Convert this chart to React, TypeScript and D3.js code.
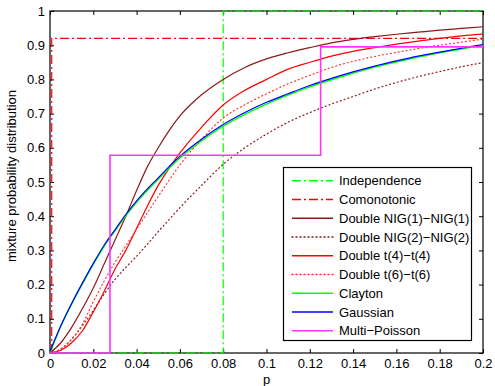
import React, { useRef, useEffect } from 'react';
import * as d3 from 'd3';

// probability grid (x values of the smooth curves)
const pGrid = [0, 0.005, 0.01, 0.015, 0.02, 0.025, 0.03, 0.035, 0.04, 0.045, 0.05, 0.055, 0.06,
  0.07, 0.08, 0.09, 0.1, 0.11, 0.12, 0.13, 0.14, 0.15, 0.16, 0.17, 0.18, 0.19, 0.2];

const nig1 = [0, 0.03, 0.075, 0.13, 0.19, 0.26, 0.33, 0.40, 0.475, 0.545, 0.60, 0.65, 0.693,
  0.755, 0.80, 0.835, 0.86, 0.878, 0.893, 0.907, 0.917, 0.925, 0.932, 0.938, 0.944, 0.949, 0.954];
const nig2 = [0, 0.012, 0.04, 0.08, 0.125, 0.172, 0.215, 0.25, 0.283, 0.318, 0.355, 0.39, 0.425,
  0.49, 0.552, 0.60, 0.64, 0.675, 0.703, 0.728, 0.75, 0.772, 0.791, 0.808, 0.823, 0.837, 0.849];
const t4 = [0, 0.008, 0.03, 0.065, 0.12, 0.18, 0.245, 0.30, 0.365, 0.43, 0.49, 0.54, 0.585,
  0.66, 0.725, 0.768, 0.80, 0.83, 0.85, 0.868, 0.882, 0.893, 0.903, 0.912, 0.92, 0.927, 0.933];
const t6 = [0, 0.012, 0.04, 0.085, 0.15, 0.21, 0.265, 0.313, 0.362, 0.41, 0.458, 0.505, 0.55,
  0.625, 0.687, 0.726, 0.758, 0.787, 0.812, 0.835, 0.853, 0.867, 0.879, 0.89, 0.90, 0.909, 0.918];
const clayton = [0, 0.078, 0.143, 0.202, 0.259, 0.312, 0.357, 0.401, 0.441, 0.476, 0.508, 0.54, 0.57,
  0.62, 0.663, 0.698, 0.728, 0.754, 0.778, 0.799, 0.818, 0.836, 0.851, 0.865, 0.878, 0.889, 0.90];
const gaussian = [0.005, 0.08, 0.145, 0.205, 0.262, 0.315, 0.36, 0.405, 0.445, 0.48, 0.512, 0.545, 0.575,
  0.625, 0.668, 0.703, 0.733, 0.758, 0.782, 0.803, 0.822, 0.839, 0.854, 0.868, 0.88, 0.891, 0.902];

// step functions (x, y) drawn with step-after
const indepX = [0, 0.08, 0.2];
const indepY = [0, 1, 1];
const comonoX = [0.0008, 0.0008, 0.2];
const comonoY = [0, 0.92, 0.92];
const poissonX = [0, 0.0277, 0.125, 0.2];
const poissonY = [0, 0.578, 0.895, 0.895];

const legendLabels = ['Independence', 'Comonotonic', 'Double NIG(1)\u2212NIG(1)', 'Double NIG(2)\u2212NIG(2)',
  'Double t(4)\u2212t(4)', 'Double t(6)\u2212t(6)', 'Clayton', 'Gaussian', 'Multi\u2212Poisson'];

const xTicks = [0, 0.02, 0.04, 0.06, 0.08, 0.1, 0.12, 0.14, 0.16, 0.18, 0.2];
const yTicks = [0, 0.1, 0.2, 0.3, 0.4, 0.5, 0.6, 0.7, 0.8, 0.9, 1];

const FONT = '"Liberation Sans", Arial, Helvetica, sans-serif';
const DASHDOT = '9,3,2,3';
const DOT = '1,3';

const App = () => {
  const svgRef = useRef<SVGSVGElement>(null);

  const draw = (node: SVGSVGElement) => {
    const width = 495, height = 386;
    const margin = { left: 50, right: 12, top: 11, bottom: 33 };
    const svg = d3.select(node).attr('width', width).attr('height', height);
    svg.selectAll('*').remove();
    svg.append('rect').attr('width', width).attr('height', height).attr('fill', '#fff');

    const x = d3.scaleLinear().domain([0, 0.2]).range([margin.left, width - margin.right]);
    const y = d3.scaleLinear().domain([0, 1]).range([height - margin.bottom, margin.top]);

    const series = [
      { label: legendLabels[0], color: '#00ff00', dash: DASHDOT, pts: indepX.map((d, i) => [d, indepY[i]]), step: true, w: 1.2 },
      { label: legendLabels[1], color: '#ff0000', dash: DASHDOT, pts: comonoX.map((d, i) => [d, comonoY[i]]), step: true, w: 1.2 },
      { label: legendLabels[2], color: '#8b1a1a', dash: null, pts: pGrid.map((d, i) => [d, nig1[i]]), step: false, w: 1.2 },
      { label: legendLabels[3], color: '#8b1a1a', dash: DOT, pts: pGrid.map((d, i) => [d, nig2[i]]), step: false, w: 1.2 },
      { label: legendLabels[4], color: '#ff0000', dash: null, pts: pGrid.map((d, i) => [d, t4[i]]), step: false, w: 1.2 },
      { label: legendLabels[5], color: '#ff3030', dash: DOT, pts: pGrid.map((d, i) => [d, t6[i]]), step: false, w: 1.2 },
      { label: legendLabels[6], color: '#00ff00', dash: null, pts: pGrid.map((d, i) => [d, clayton[i]]), step: false, w: 1.4 },
      { label: legendLabels[7], color: '#0000ff', dash: null, pts: pGrid.map((d, i) => [d, gaussian[i]]), step: false, w: 1.2 },
      { label: legendLabels[8], color: '#ff33ff', dash: null, pts: poissonX.map((d, i) => [d, poissonY[i]]), step: true, w: 1.6 },
    ];

    // axes: ticks inside on all four sides
    svg.append('g')
      .attr('transform', `translate(0,${y(0)})`)
      .call(d3.axisBottom(x).tickValues(xTicks).tickSize(-4).tickSizeOuter(0).tickPadding(6)
        .tickFormat((d) => String(+(+d).toFixed(2))));
    svg.append('g')
      .attr('transform', `translate(0,${y(1)})`)
      .call(d3.axisTop(x).tickValues(xTicks).tickSize(-4).tickSizeOuter(0).tickFormat(() => ''));
    svg.append('g')
      .attr('transform', `translate(${x(0)},0)`)
      .call(d3.axisLeft(y).tickValues(yTicks).tickSize(-4).tickSizeOuter(0).tickPadding(5)
        .tickFormat((d) => String(+(+d).toFixed(1))));
    svg.append('g')
      .attr('transform', `translate(${x(0.2)},0)`)
      .call(d3.axisRight(y).tickValues(yTicks).tickSize(-4).tickSizeOuter(0).tickFormat(() => ''));
    svg.selectAll('.tick text').attr('font-family', FONT).attr('font-size', 13).attr('fill', '#000');
    svg.selectAll('.tick line').attr('stroke', '#000');
    svg.selectAll('.domain').remove();

    // plot frame
    svg.append('rect')
      .attr('x', x(0)).attr('y', y(1))
      .attr('width', x(0.2) - x(0)).attr('height', y(0) - y(1))
      .attr('fill', 'none').attr('stroke', '#000').attr('stroke-width', 1.2);

    const plot = svg.append('g');
    series.forEach((s) => {
      const line = d3.line<number[]>()
        .x((d) => x(d[0]))
        .y((d) => y(d[1]))
        .curve(s.step ? d3.curveStepAfter : d3.curveMonotoneX);
      plot.append('path')
        .attr('d', line(s.pts as number[][]))
        .attr('fill', 'none')
        .attr('stroke', s.color)
        .attr('stroke-width', s.w)
        .attr('stroke-dasharray', s.dash)
        .attr('stroke-linecap', s.dash === DOT ? 'round' : 'butt');
    });

    // axis labels
    svg.append('text')
      .attr('x', (x(0) + x(0.2)) / 2).attr('y', 383.5)
      .attr('text-anchor', 'middle').attr('font-family', FONT).attr('font-size', 13)
      .text('p');
    svg.append('text')
      .attr('transform', `translate(16,176) rotate(-90)`)
      .attr('text-anchor', 'middle').attr('font-family', FONT).attr('font-size', 13)
      .text('mixture probability distribution');

    // legend
    const lg = svg.append('g');
    lg.append('rect')
      .attr('x', 283.5).attr('y', 167.5).attr('width', 188).attr('height', 173)
      .attr('fill', '#fff').attr('stroke', '#000').attr('stroke-width', 1.2);
    series.forEach((s, i) => {
      const yy = 180.7 + i * 18.75;
      lg.append('line')
        .attr('x1', 292).attr('x2', 333).attr('y1', yy).attr('y2', yy)
        .attr('stroke', s.color).attr('stroke-width', 1.5)
        .attr('stroke-dasharray', s.dash)
        .attr('stroke-linecap', s.dash === DOT ? 'round' : 'butt');
      lg.append('text')
        .attr('x', 339).attr('y', yy).attr('dy', '0.35em')
        .attr('font-family', FONT).attr('font-size', 13)
        .text(s.label);
    });
  };

  useEffect(() => {
    if (svgRef.current) {
      draw(svgRef.current);
    }
  }, [svgRef]);

  return (
    <div style={{ position: 'absolute', left: 0, top: 0 }}>
      <svg ref={svgRef} style={{ display: 'block' }} />
    </div>
  );
};

export default App;
